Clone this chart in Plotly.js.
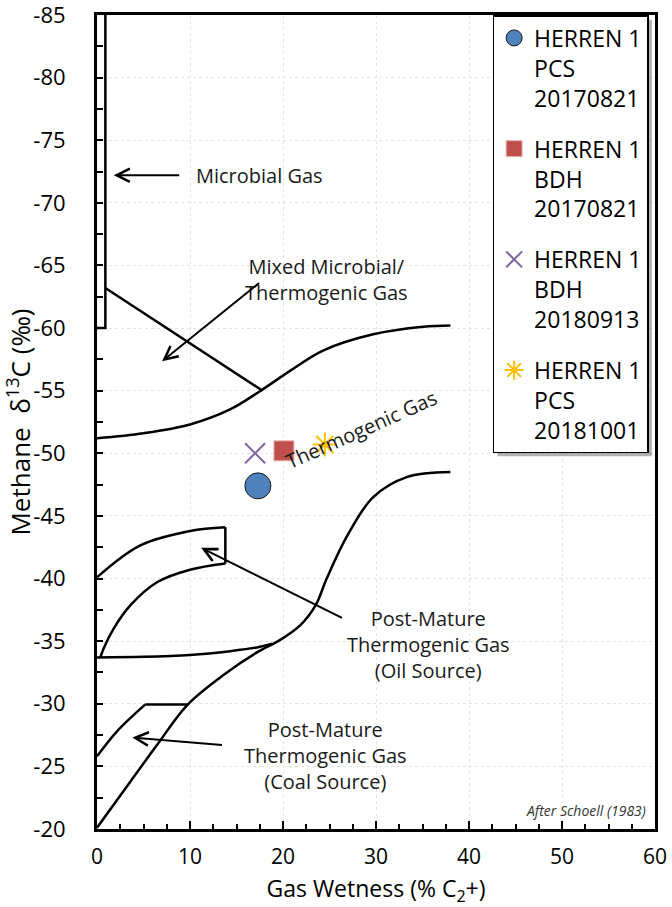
<!DOCTYPE html>
<html>
<head>
<meta charset="utf-8">
<script src="https://cdn.plot.ly/plotly-3.0.1.min.js"></script>
<style>html,body{margin:0;padding:0;background:#fff;}</style>
</head>
<body>
<div id="chart" style="width:672px;height:907px;"></div>
<script>
// ---- Sample data ----
const seriesNames = ['HERREN 1<br>PCS<br>20170821', 'HERREN 1<br>BDH<br>20170821', 'HERREN 1<br>BDH<br>20180913', 'HERREN 1<br>PCS<br>20181001'];
const wetness = [17.3, 20.1, 17.0, 24.5];
const methaneD13C = [-47.4, -50.2, -50.0, -50.7];

// ---- Schoell (1983) field boundaries ----
const microbialBoxX = [0.9, 0.9, 0];
const microbialBoxY = [-85, -60, -60];
const mixedLineX = [0.9, 17.8];
const mixedLineY = [-63.2, -55.0];
const thermoUpperX = [0, 5, 10, 14.3, 17.6, 20.8, 24.3, 29.7, 35.1, 38];
const thermoUpperY = [-51.2, -51.6, -52.3, -53.5, -55.0, -56.6, -58.2, -59.5, -60.1, -60.2];
const thermoLowerX = [0, 3.6, 6.45, 9.7, 13.6, 17.2, 19.7, 21.9, 23.5, 24.7, 26.9, 29.7, 33.3, 38];
const thermoLowerY = [-20.1, -23.8, -26.7, -29.9, -32.3, -34.1, -35.1, -36.3, -37.85, -40.0, -43.4, -46.5, -48.1, -48.5];
const oilFlatX = [0, 5, 10, 14.3, 17.2, 18.8];
const oilFlatY = [-33.7, -33.75, -33.9, -34.2, -34.5, -34.8];
const oilBoxTopX = [0, 4.66, 10, 13.8];
const oilBoxTopY = [-40.1, -42.65, -43.8, -44.1];
const oilBoxRightX = [13.8, 13.8];
const oilBoxRightY = [-44.1, -41.2];
const oilBoxBottomX = [13.8, 10, 6.45, 3.58, 1.79, 0.7, 0.36];
const oilBoxBottomY = [-41.2, -40.7, -39.7, -37.85, -36.0, -34.4, -33.7];
const coalBoxCurveX = [0, 2.15, 5.2];
const coalBoxCurveY = [-25.8, -27.8, -29.95];
const coalBoxFlatX = [5.2, 9.7];
const coalBoxFlatY = [-29.95, -29.95];

// ---- Tick labels ----
const xTickVals = [0, 10, 20, 30, 40, 50, 60];
const xTickText = ['0', '10', '20', '30', '40', '50', '60'];
const yTickVals = [-85, -80, -75, -70, -65, -60, -55, -50, -45, -40, -35, -30, -25, -20];
const yTickText = ['-85', '-80', '-75', '-70', '-65', '-60', '-55', '-50', '-45', '-40', '-35', '-30', '-25', '-20'];

const FONT = 'Open Sans, sans-serif';
const boundary = {color: '#000', width: 2.5};

function bline(x, y, shape) {
  return {x: x, y: y, type: 'scatter', mode: 'lines', line: Object.assign({shape: shape || 'linear', smoothing: 1}, boundary),
          showlegend: false, hoverinfo: 'skip'};
}

const traces = [
  bline(microbialBoxX, microbialBoxY),
  bline(mixedLineX, mixedLineY),
  bline(thermoUpperX, thermoUpperY, 'spline'),
  bline(thermoLowerX, thermoLowerY, 'spline'),
  bline(oilFlatX, oilFlatY, 'spline'),
  bline(oilBoxTopX, oilBoxTopY, 'spline'),
  bline(oilBoxRightX, oilBoxRightY),
  bline(oilBoxBottomX, oilBoxBottomY, 'spline'),
  bline(coalBoxCurveX, coalBoxCurveY, 'spline'),
  bline(coalBoxFlatX, coalBoxFlatY)
];

const markerStyles = [
  {symbol: 'circle', size: 26, color: '#4F81BD', line: {color: '#1a1a1a', width: 1}},
  {symbol: 'square', size: 20, color: '#C0504D', line: {color: '#e8b5b3', width: 1}},
  {symbol: 'x-thin', size: 20, color: '#8064A2', line: {color: '#8064A2', width: 2}},
  {symbol: 'asterisk-open', size: 20, color: '#FFC000', line: {color: '#FFC000', width: 2}}
];
for (let i = 0; i < seriesNames.length; i++) {
  traces.push({
    x: [wetness[i]], y: [methaneD13C[i]], type: 'scatter', mode: 'markers',
    name: seriesNames[i], legendgroup: 'g' + i, marker: markerStyles[i]
  });
}

const annoFont = {family: FONT, size: 20, color: '#1a1a1a'};
const arrow = {text: '', showarrow: true, arrowhead: 5, arrowsize: 1.3, arrowwidth: 2, arrowcolor: '#000',
               xref: 'x', yref: 'y', axref: 'x', ayref: 'y'};

const annotations = [
  {x: 10.45, y: -72.2, xanchor: 'left', text: 'Microbial Gas', showarrow: false, font: annoFont},
  Object.assign({}, arrow, {x: 1.8, y: -72.2, ax: 9.0, ay: -72.2}),
  {x: 24.7, y: -63.85, text: 'Mixed Microbial/<br>Thermogenic Gas', showarrow: false, font: annoFont},
  Object.assign({}, arrow, {x: 7.0, y: -57.35, ax: 17.6, ay: -63.7}),
  {x: 28.4, y: -51.9, text: 'Thermogenic Gas', textangle: -24, showarrow: false, font: annoFont},
  {x: 35.6, y: -34.75, text: 'Post-Mature<br>Thermogenic Gas<br>(Oil Source)', showarrow: false, font: annoFont},
  Object.assign({}, arrow, {x: 11.2, y: -42.45, ax: 26.5, ay: -36.8}),
  {x: 24.6, y: -25.85, text: 'Post-Mature<br>Thermogenic Gas<br>(Coal Source)', showarrow: false, font: annoFont},
  Object.assign({}, arrow, {x: 3.8, y: -27.3, ax: 13.6, ay: -26.7}),
  {x: 59.2, y: -21.5, xanchor: 'right', text: '<i>After Schoell (1983)</i>', showarrow: false,
   font: {family: FONT, size: 14, color: '#333'}}
];

const layout = {
  width: 672, height: 907,
  margin: {l: 97, r: 16.5, t: 15, b: 78},
  paper_bgcolor: '#fff', plot_bgcolor: '#fff',
  font: {family: FONT, color: '#1a1a1a'},
  showlegend: true,
  legend: {
    x: 0.709, y: 1, xanchor: 'left', yanchor: 'top',
    bgcolor: '#fff', bordercolor: '#000', borderwidth: 1.5,
    font: {family: FONT, size: 23, color: '#000'},
    valign: 'top', tracegroupgap: 18, itemwidth: 30
  },
  xaxis: {
    range: [0, 60], tickmode: 'array', tickvals: xTickVals, ticktext: xTickText,
    ticks: 'inside', ticklen: 8, tickwidth: 2, tickcolor: '#000',
    minor: {dtick: 2.5, tick0: 0, ticks: 'inside', ticklen: 5, tickwidth: 2, tickcolor: '#000', showgrid: false},
    showline: true, linewidth: 3, linecolor: '#000', mirror: true,
    showgrid: true, gridcolor: '#e4e4e4', griddash: 'dot', gridwidth: 1, zeroline: false,
    tickfont: {family: FONT, size: 21, color: '#000'}, ticklabelstandoff: 7, ticklabeloverflow: 'allow',
    automargin: false,
    title: {text: 'Gas Wetness (% C<sub>2</sub>+)', font: {family: FONT, size: 23, color: '#000'}}
  },
  yaxis: {
    range: [-20, -85], tickmode: 'array', tickvals: yTickVals, ticktext: yTickText,
    ticks: 'inside', ticklen: 6, tickwidth: 2, tickcolor: '#000',
    minor: {dtick: 2.5, tick0: -85, ticks: 'inside', ticklen: 6, tickwidth: 2, tickcolor: '#000', showgrid: false},
    showline: true, linewidth: 3, linecolor: '#000', mirror: true,
    showgrid: true, gridcolor: '#e4e4e4', griddash: 'dot', gridwidth: 1, zeroline: false,
    tickfont: {family: FONT, size: 22, color: '#000'}, ticklabelstandoff: 24, ticklabeloverflow: 'allow',
    automargin: false,
    title: {text: 'Methane  δ<sup>13</sup>C (‰)', font: {family: FONT, size: 26, color: '#000'}}
  },
  annotations: annotations
};

Plotly.newPlot('chart', traces, layout, {displayModeBar: false, staticPlot: true}).then(function (gd) {
  // soft drop shadow behind the legend box, derived from the legend's rendered size
  const bg = gd.querySelector('.legend .bg');
  if (!bg) return;
  const bb = bg.getBoundingClientRect();
  const gb = gd.getBoundingClientRect();
  const fl = gd._fullLayout;
  const xo = fl.xaxis._offset, xl = fl.xaxis._length, yo = fl.yaxis._offset, yl = fl.yaxis._length;
  const px = function (v) { return (v - gb.left - xo) / xl; };
  const py = function (v) { return 1 - (v - gb.top - yo) / yl; };
  const off = 4;
  Plotly.relayout(gd, {shapes: [{
    type: 'rect', xref: 'paper', yref: 'paper', layer: 'above',
    x0: px(bb.left + off), x1: px(bb.right + off), y0: py(bb.bottom + off), y1: py(bb.top + off),
    fillcolor: 'rgba(0,0,0,0.3)', line: {width: 0}
  }]});
});
</script>
</body>
</html>
